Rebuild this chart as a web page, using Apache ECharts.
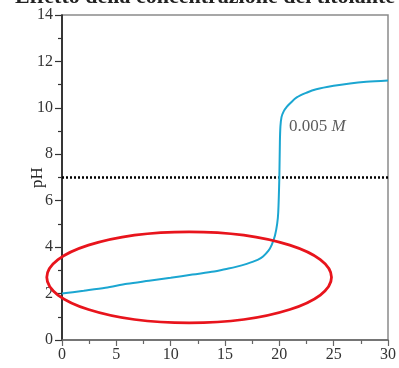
<!DOCTYPE html>
<html>
<head>
<meta charset="utf-8">
<script src="https://cdn.jsdelivr.net/npm/echarts@6/dist/echarts.min.js"></script>
<style>
  html, body { margin: 0; padding: 0; background: #fff; }
  #box { width: 399px; height: 368px; }
</style>
</head>
<body>
<div id="box"></div>
<script>
var chart = echarts.init(document.getElementById('box'));

// volume of titrant (x) and pH (y)
var volume = [0, 1, 2, 4, 6, 8, 10, 12, 14, 15, 16, 17, 18, 18.5, 19, 19.3, 19.6, 19.8, 19.9, 20, 20.05, 20.1, 20.2, 20.4, 20.7, 21, 21.6, 22.5, 23.4, 25, 26.5, 28, 30];
var ph = [2.0, 2.06, 2.12, 2.25, 2.42, 2.55, 2.68, 2.82, 2.95, 3.05, 3.15, 3.28, 3.45, 3.6, 3.85, 4.1, 4.5, 5.0, 5.5, 7.0, 8.5, 9.2, 9.6, 9.85, 10.05, 10.2, 10.45, 10.65, 10.8, 10.95, 11.05, 11.12, 11.18];
var neutralLine = [[0, 7], [30, 7]];
var curveLabel = [[20.9, 9.2]];
var titleText = 'Effetto della concentrazione del titolante';

var serif = '"Liberation Serif", "DejaVu Serif", serif';
var curve = volume.map(function(v, i) {
  return [v, ph[i]];
});

chart.setOption({
  animation: false,
  grid: {
    left: 62,
    top: 15,
    right: 11,
    bottom: 28,
    show: true,
    borderColor: '#8a8a8a',
    borderWidth: 1.5
  },
  xAxis: {
    type: 'value',
    min: 0,
    max: 30,
    interval: 5,
    axisLine: { lineStyle: { color: '#666', width: 1.5 } },
    axisTick: { length: 6, lineStyle: { color: '#666', width: 1.2 } },
    minorTick: { show: true, splitNumber: 2, length: 4, lineStyle: { color: '#666', width: 1.2 } },
    splitLine: { show: false },
    axisLabel: { color: '#333', fontFamily: serif, fontSize: 16, margin: 7 }
  },
  yAxis: {
    type: 'value',
    min: 0,
    max: 14,
    interval: 2,
    name: 'pH',
    nameLocation: 'middle',
    nameGap: 16,
    nameMoveOverlap: false,
    nameTextStyle: { color: '#222', fontFamily: serif, fontSize: 17 },
    axisLine: { lineStyle: { color: '#111', width: 1.5 } },
    axisTick: { length: 7, lineStyle: { color: '#333', width: 1.2 } },
    minorTick: { show: true, splitNumber: 2, length: 4, lineStyle: { color: '#333', width: 1.2 } },
    splitLine: { show: false },
    axisLabel: { color: '#333', fontFamily: serif, fontSize: 16, margin: 9 }
  },
  series: [
    {
      type: 'line',
      data: neutralLine,
      symbol: 'none',
      lineStyle: { color: '#000', width: 2.5, type: [2, 2] },
      z: 2
    },
    {
      type: 'line',
      data: curve,
      symbol: 'none',
      smooth: 0.3,
      lineStyle: { color: '#1ba6d1', width: 2 },
      z: 3
    },
    {
      type: 'scatter',
      data: curveLabel,
      symbolSize: 0,
      label: {
        show: true,
        position: 'right',
        distance: 0,
        formatter: '{a|0.005 }{b|M}',
        rich: {
          a: { fontFamily: serif, fontSize: 17, color: '#333' },
          b: { fontFamily: serif, fontSize: 17, fontStyle: 'italic', color: '#333' }
        }
      },
      z: 4
    }
  ]
});

// red ellipse annotation and the cut-off title, placed from data coords
var c = chart.convertToPixel({ gridIndex: 0 }, [11.7, 2.7]);
var e = chart.convertToPixel({ gridIndex: 0 }, [24.8, 4.66]);
chart.setOption({
  graphic: [
    {
      type: 'ellipse',
      shape: { cx: c[0], cy: c[1], rx: e[0] - c[0], ry: c[1] - e[1] },
      style: { fill: 'none', stroke: '#e8141c', lineWidth: 2.8 },
      z: 10
    },
    {
      type: 'text',
      x: 15,
      y: 8,
      style: {
        text: titleText,
        font: 'bold 22px ' + serif,
        fill: '#222',
        verticalAlign: 'bottom'
      },
      z: 10
    }
  ]
});
</script>
</body>
</html>
